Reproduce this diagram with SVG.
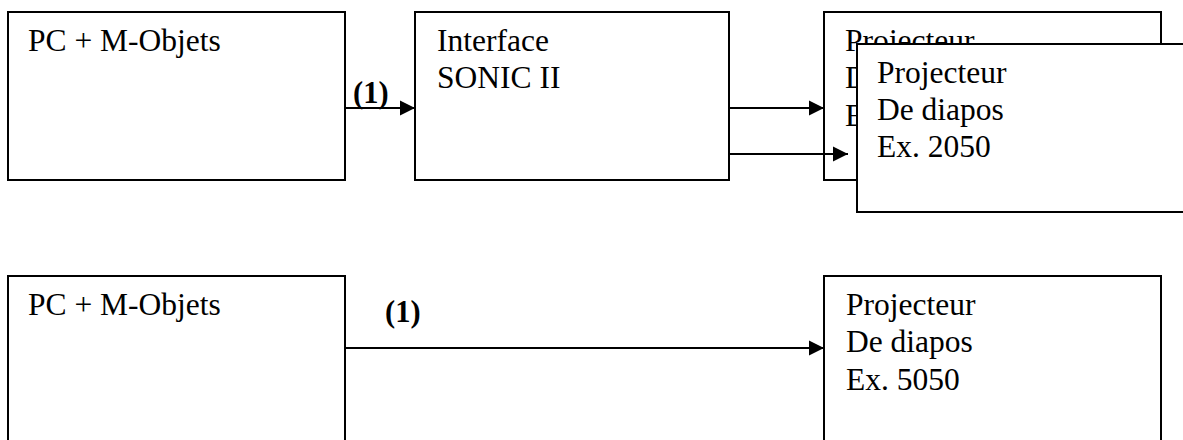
<svg xmlns="http://www.w3.org/2000/svg" width="1183" height="440" viewBox="0 0 1183 440">
  <style>
    .box { fill: #ffffff; stroke: #000000; stroke-width: 2; }
    .t { font-family: "Liberation Serif", "Times New Roman", serif; font-size: 31.5px; fill: #000000; }
    .lbl { font-family: "Liberation Serif", "Times New Roman", serif; font-size: 30.5px; font-weight: bold; fill: #000000; }
    .conn { stroke: #000000; stroke-width: 2; fill: none; }
  </style>
  <defs>
    <marker id="arrow" markerUnits="userSpaceOnUse" markerWidth="16" markerHeight="16" viewBox="0 0 16 16" refX="15" refY="8" orient="auto">
      <path d="M0,0.5 L15,8 L0,15.5 Z" fill="#000000"/>
    </marker>
  </defs>
  <rect width="1183" height="440" fill="#ffffff"/>

  <g id="pc-top">
    <rect class="box" x="8" y="12" width="337" height="168"/>
    <text class="t" x="28" y="51">PC + M-Objets</text>
  </g>

  <g id="interface-sonic">
    <rect class="box" x="415" y="12" width="314" height="168"/>
    <text class="t" x="437" y="51">Interface</text>
    <text class="t" x="437" y="88">SONIC II</text>
  </g>

  <g id="projecteur-back">
    <rect class="box" x="824" y="12" width="337" height="168"/>
    <text class="t" x="845" y="51">Projecteur</text>
    <text class="t" x="845" y="88">De diapos</text>
    <text class="t" x="845" y="126">Ex. 2050</text>
  </g>

  <g id="connectors">
    <line class="conn" x1="345" y1="108" x2="415" y2="108" marker-end="url(#arrow)"/>
    <text class="lbl" x="353" y="103">(1)</text>
    <line class="conn" x1="729" y1="108" x2="824" y2="108" marker-end="url(#arrow)"/>
    <line class="conn" x1="729" y1="154" x2="848" y2="154" marker-end="url(#arrow)"/>
    <line class="conn" x1="345" y1="348" x2="824" y2="348" marker-end="url(#arrow)"/>
    <text class="lbl" x="385" y="322">(1)</text>
  </g>

  <g id="projecteur-2050">
    <rect class="box" x="857" y="44" width="340" height="168"/>
    <text class="t" x="877" y="83">Projecteur</text>
    <text class="t" x="877" y="120">De diapos</text>
    <text class="t" x="877" y="157">Ex. 2050</text>
  </g>

  <g id="pc-bottom">
    <rect class="box" x="8" y="276" width="337" height="180"/>
    <text class="t" x="28" y="315">PC + M-Objets</text>
  </g>

  <g id="projecteur-5050">
    <rect class="box" x="824" y="276" width="337" height="180"/>
    <text class="t" x="846" y="315">Projecteur</text>
    <text class="t" x="846" y="352">De diapos</text>
    <text class="t" x="846" y="390">Ex. 5050</text>
  </g>
</svg>
